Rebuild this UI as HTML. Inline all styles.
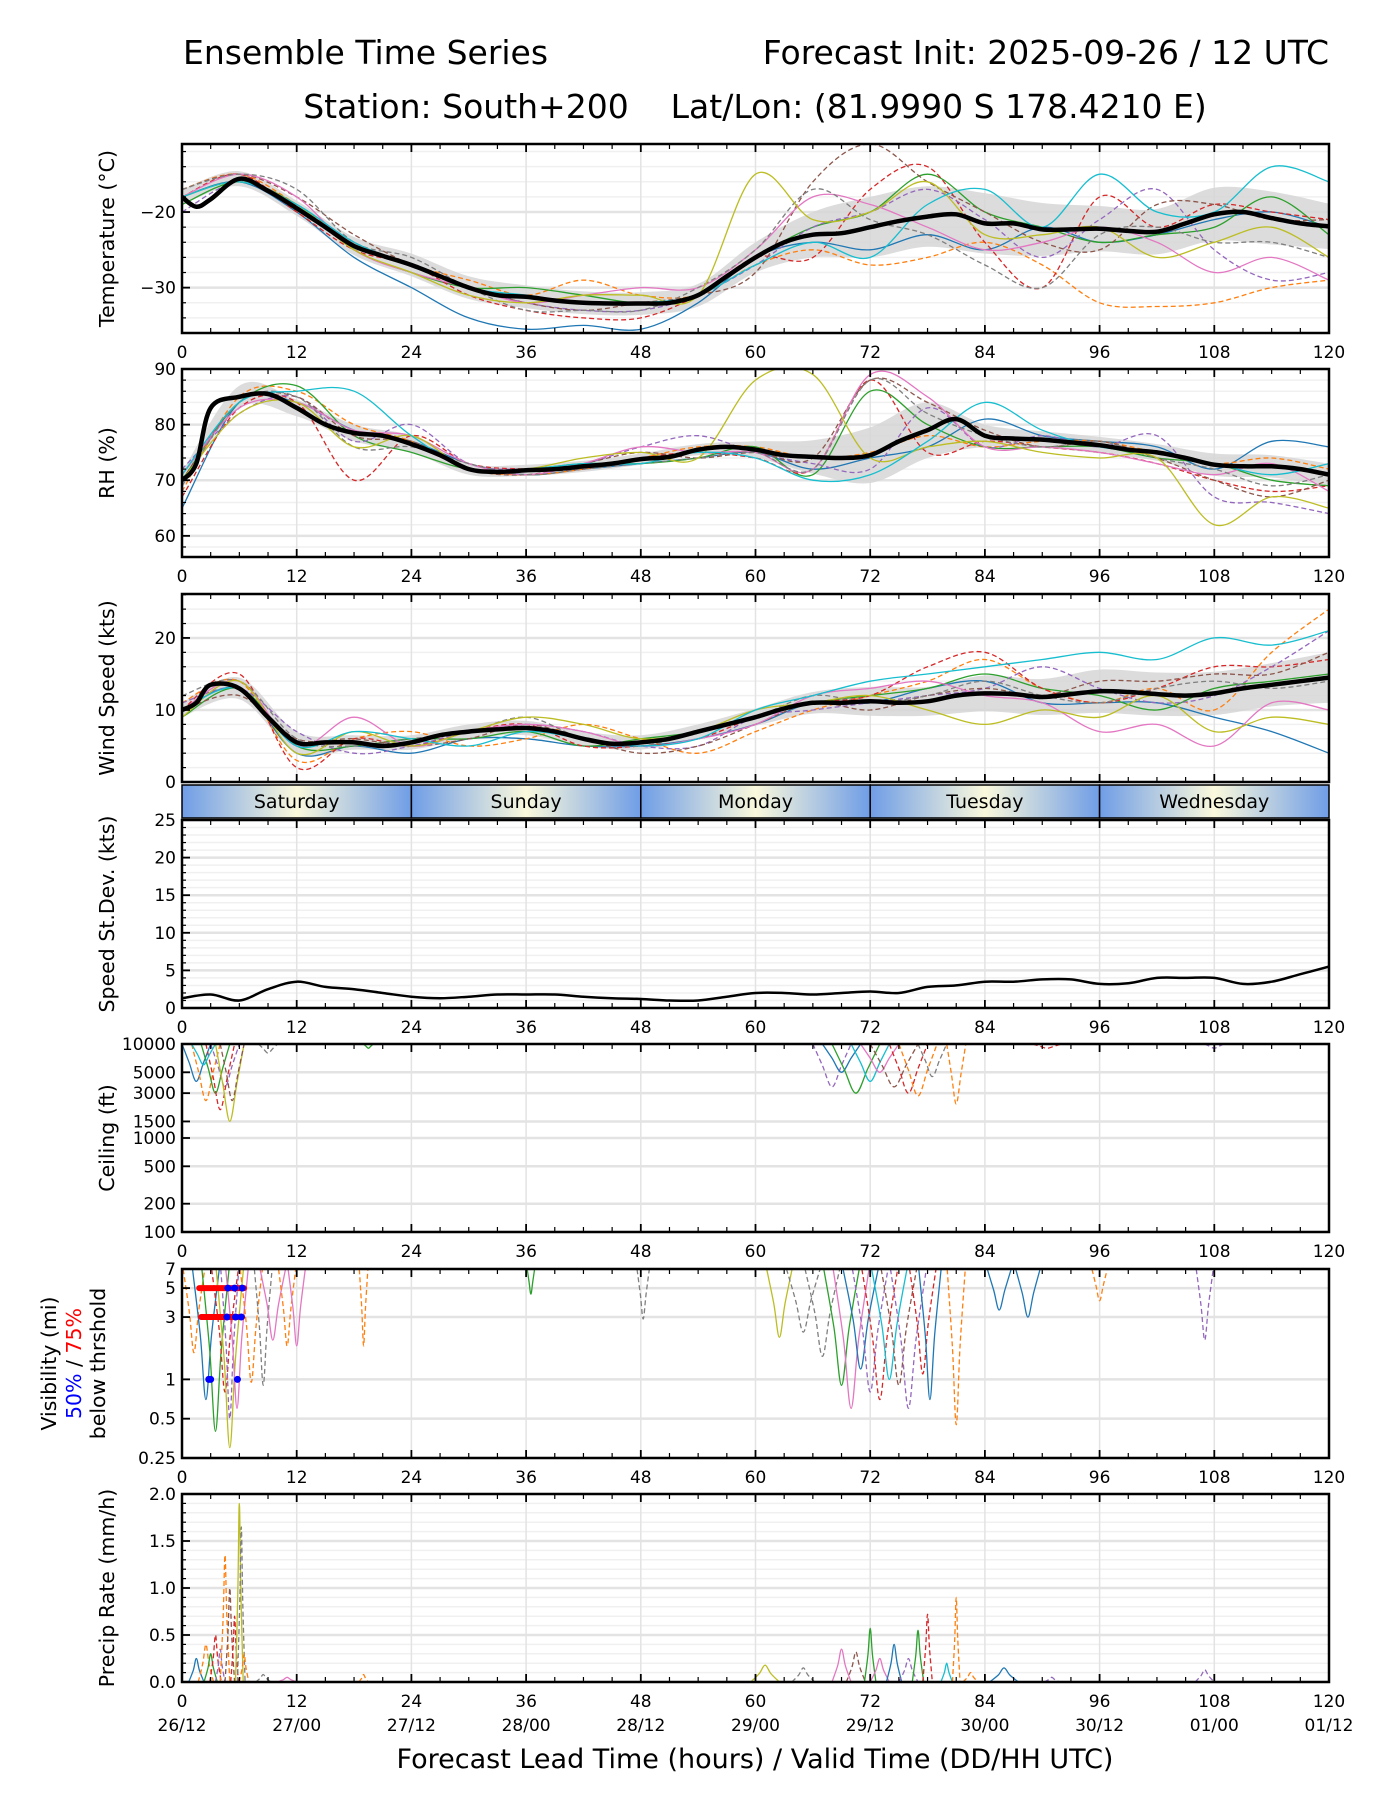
<!DOCTYPE html>
<html><head><meta charset="utf-8"><title>Ensemble Time Series</title>
<style>
html,body{margin:0;padding:0;background:#fff;}
svg{display:block;font-family:"DejaVu Sans","Liberation Sans",sans-serif;}
</style></head>
<body>
<svg id="chart" width="1400" height="1800" viewBox="0 0 1400 1800" xmlns="http://www.w3.org/2000/svg">
<text x="183" y="64" font-size="33">Ensemble Time Series</text>
<text x="1329" y="64" font-size="33" text-anchor="end">Forecast Init: 2025-09-26 / 12 UTC</text>
<text x="755" y="118" font-size="33" text-anchor="middle">Station: South+200 &#160;&#160; Lat/Lon: (81.9990 S 178.4210 E)</text>
<text x="755" y="1768" font-size="27" text-anchor="middle">Forecast Lead Time (hours) / Valid Time (DD/HH UTC)</text>
<g id="layer"></g>
</svg>
<script>
// ---------- data ----------
const memberColors = ["#1f77b4","#ff7f0e","#2ca02c","#d62728","#9467bd","#8c564b","#e377c2","#7f7f7f","#bcbd22","#17becf"];
const memberDashed = [false,true,false,true,true,true,false,true,false,false];
const meanHours = [0,1.5,3,6,9,12,15,18,21,24,27,30,33,36,39,42,45,48,51,54,57,60,63,66,69,72,75,78,81,84,87,90,93,96,99,102,105,108,111,114,117,120];
const tempMean = [-18,-19.3,-18.3,-15.6,-17.2,-19.5,-22,-24.5,-25.8,-27,-28.5,-30,-31,-31.2,-31.7,-32,-32.1,-32.1,-32,-31,-28.5,-26,-24,-23,-22.8,-22,-21.2,-20.6,-20.3,-21.5,-21.5,-22.3,-22.3,-22.2,-22.5,-22.6,-21.5,-20.3,-20,-20.8,-21.5,-21.9];
const rhMean = [70,73,83,85,85.5,83,80,78.5,78,76.5,74.5,72,71.5,71.8,72,72.5,73,73.8,74.2,75.5,76,75.5,74.5,74.2,74,74.5,77,79,81,78,77.5,77.3,76.8,76.3,75.5,75,74,72.8,72.5,72.5,72,71];
const windMean = [10,11,13.5,13,9,5.5,5.5,5.5,5,5.5,6.5,7,7.3,7.5,7,6,5.3,5.5,6,7,8,9,10.2,11,11,11.2,11,11.2,12,12.3,12.2,11.8,12.2,12.6,12.5,12.2,12,12.3,13,13.5,14,14.5];
const sdHours = [0,3,6,9,12,15,18,21,24,27,30,33,36,39,42,45,48,51,54,57,60,63,66,69,72,75,78,81,84,87,90,93,96,99,102,105,108,111,114,117,120];
const speedStdDev = [1.3,1.8,1,2.5,3.5,2.8,2.5,2,1.5,1.3,1.5,1.8,1.8,1.8,1.5,1.3,1.2,1,1,1.5,2,2,1.8,2,2.2,2,2.8,3,3.5,3.5,3.8,3.8,3.2,3.3,4,4,4,3.2,3.5,4.5,5.5];
const memberHours = [0,6,12,18,24,30,36,42,48,54,60,66,72,78,84,90,96,102,108,114,120];
const tempSpread = [1,1,1,1.2,1.5,1.5,1.5,1.5,1.5,1.5,2,3,4,4,4,3.5,3,3,3.5,3.5,3];
const rhSpread = [1.5,2,1.5,1.5,1.5,1,1,1,1,1,1.5,3,5,5,2,1.5,1.5,1.5,2,2,2];
const windSpread = [1,1.5,1.5,1,1,1,1,1,1,1,1.2,1.5,2,2,2.5,2.5,3,3,3,3,3.5];
const tempMembers = [
 [-18,-16,-20,-26,-30,-34,-35.5,-35,-35.5,-32,-26,-24,-25,-23,-25,-22,-24,-23,-21,-20,-22],
 [-17,-15,-19,-24,-27,-29,-31,-29,-31,-31,-27,-25,-27,-26,-24,-27,-32,-32.5,-32,-30,-29],
 [-19,-16,-19,-25,-28,-30,-30,-31,-32,-31,-26,-22,-20,-15,-20,-22,-24,-23,-22,-18,-23],
 [-18,-15,-20,-25,-27,-31,-33,-34,-34,-31,-26,-26,-17,-14,-24,-30,-18,-22,-19,-20,-21],
 [-20,-16,-19,-24,-27,-30,-32,-33,-33,-31,-27,-22,-20,-17,-21,-26,-21,-17,-25,-29,-28],
 [-17,-15,-18,-23,-27,-30,-32,-33,-32,-31,-28,-16,-11,-16,-20,-24,-25,-19,-19,-21,-21],
 [-18,-15,-18,-25,-28,-30,-32,-31,-30,-30,-25,-18,-19,-22,-25,-24,-22,-24,-28,-26,-29],
 [-17,-15,-17,-24,-26,-30,-33,-33,-33,-30,-25,-17,-21,-23,-27,-30,-23,-22,-24,-24,-26],
 [-18,-16,-19,-25,-28,-31,-32,-31,-31,-31,-15,-21,-20,-16,-23,-23,-22,-26,-24,-22,-26],
 [-18,-16,-19,-24,-27,-30,-31,-32,-32,-31,-27,-24,-26,-19,-17,-22,-15,-20,-20,-14,-16]];
const rhMembers = [
 [65,84,84,79,77,73,71,72,73,74,75,72,74,76,81,78,77,76,72,77,76],
 [68,85,86,80,77,72,71,72,74,76,76,74,75,78,76,77,77,75,73,74,72],
 [70,84,87,78,75,72,72,73,73,74,76,71,86,80,76,76,76,74,73,70,69],
 [67,83,84,70,78,73,72,72,74,75,74,72,88,75,77,76,75,73,70,68,69],
 [72,82,85,77,80,73,72,73,76,78,75,73,72,83,76,78,76,78,67,66,64],
 [70,84,85,78,77,72,71,73,75,74,75,74,88,84,79,76,77,74,70,67,70],
 [71,83,84,79,78,73,71,73,76,75,75,72,89,85,76,76,75,73,71,73,68],
 [69,84,85,76,76,73,71,72,73,74,75,72,88,82,78,76,77,74,72,69,71],
 [70,82,84,76,78,72,72,74,75,74,88,89,74,76,77,75,74,74,62,67,65],
 [71,84,86,86,78,72,72,73,73,75,74,70,71,77,84,79,76,75,73,71,73]];
const windMembers = [
 [10,13,4,5,4,6,6,5,5,6,8,11,11,13,14,11,11,11,9,7,4],
 [11,14,3,6,7,5,6,8,6,4,7,10,12,14,17,13,11,13,10,18,24],
 [9,13,5,5,6,6,7,5,6,7,9,11,12,13,15,13,12,10,13,14,15],
 [10,15,2,6,5,7,8,5,5,6,9,11,12,16,18,13,11,13,16,16,17],
 [11,13,7,4,5,7,8,7,5,5,9,10,11,12,13,16,13,11,12,16,21],
 [10,12,6,6,5,6,8,6,4,5,8,11,10,12,13,12,14,14,15,15,18],
 [10,14,5,9,5,7,8,7,5,6,8,12,13,14,12,11,7,8,5,11,10],
 [12,14,6,5,6,7,9,6,5,7,9,12,11,12,14,12,11,13,14,13,14],
 [9,14,4,7,5,7,9,8,6,7,10,11,12,10,8,10,9,12,7,9,8],
 [10,13,5,7,6,5,7,6,5,6,10,12,14,15,16,17,18,17,20,19,21]];
// dips: [startHour, endHour, minimum]
const ceilDips = [[0,3,4000],[1,4,2500],[2,5,3000],[2.5,5.5,2000],[3,6,3500],[3.5,6.5,1500],[4,6.5,2500],[1,3.5,6000],[8,10,8000],[19,20,9000],[66,70,3500],[67,71,5000],[68,73,3000],[70,74,4000],[71,75,5000],[72,77,3500],[74,78,3000],[75,79,2800],[77,80,4500],[80,82,2300],[107,109,9000],[89,92,9000]];
const visDips = [[0,2.5,1.6],[1,4,0.7],[2,5,0.4],[3,6,0.8],[3.5,6.5,0.3],[4,6,0.5],[4.5,7,0.6],[6,8.5,0.95],[7.5,9.5,0.9],[8,11,2],[10,12,1.8],[11,13,1.8],[18.5,19.5,1.8],[36,37,4.5],[47.5,49,2.9],[61,64,2.1],[63,67,2.3],[65,69,1.5],[67,71,0.9],[68,72,0.6],[69,73,1.2],[70,74,0.8],[71,75,0.7],[72,76,1.0],[73,77,0.9],[74,78,0.6],[76,79,1.1],[77,79.5,0.7],[80,82,0.45],[84,87,3.4],[87,90,3],[95,97,4],[106,108,2]];
const visDipColors = [1,0,2,3,8,4,6,1,7,6,1,6,1,2,7,8,7,7,2,6,0,4,3,9,5,4,3,0,1,0,0,1,4];
const ceilDipColors = [0,1,2,3,4,8,5,9,7,2,4,0,2,9,6,5,3,1,7,1,4,3];
// precip spikes: [hour, halfWidth, peak]
const precipSpikes = [[1.5,0.8,0.25],[2.5,0.8,0.4],[3,0.7,0.3],[3.5,0.6,0.5],[4,0.5,0.35],[4.5,0.5,1.35],[5,0.5,1.0],[5.5,0.4,0.7],[6,0.4,1.9],[6.2,0.4,1.65],[6.5,0.5,0.3],[8.5,0.8,0.08],[11,1,0.05],[19,0.5,0.08],[61,1.5,0.18],[65,1.2,0.15],[69,1,0.35],[70.5,1,0.32],[72,0.6,0.57],[73,1,0.25],[74.5,0.8,0.4],[76,1,0.25],[77,0.6,0.55],[78,0.5,0.72],[80,0.6,0.2],[81,0.4,0.9],[82.5,0.8,0.1],[86,1.5,0.15],[91,0.8,0.05],[107,1,0.13]];
const precipColors = [0,1,2,3,4,1,5,3,8,7,1,7,6,1,8,7,6,5,2,6,0,4,2,3,9,1,1,0,4,4];
const dayNames = ["Saturday","Sunday","Monday","Tuesday","Wednesday"];
const xTicks = [0,12,24,36,48,60,72,84,96,108,120];
const validLabels = ["26/12","27/00","27/12","28/00","28/12","29/00","29/12","30/00","30/12","01/00","01/12"];
const tempTicks = [-20,-30];
const rhTicks = [60,70,80,90];
const windTicks = [0,10,20];
const sdTicks = [0,5,10,15,20,25];
const ceilTicks = [100,200,500,1000,1500,3000,5000,10000];
const visTicks = [0.25,0.5,1,3,5,7];
const precipTicks = [0,0.5,1,1.5,2];
const precipTickLabels = ["0.0","0.5","1.0","1.5","2.0"];
// threshold markers [value, startHour, endHour]
const visRed = [[5,1.8,6.5],[3,2,6.3]];
const visBlue = [[5,4.8],[5,5.5],[5,6.3],[3,4.7],[3,5.6],[3,6.2],[1,2.8],[1,3],[1,5.8]];

// ---------- drawing ----------
const NS="http://www.w3.org/2000/svg";
const layer=document.getElementById('layer');
const X0=182,X1=1329;
function xs(h){return X0+(X1-X0)*h/120;}
function mk(tag,attrs,parent){const e=document.createElementNS(NS,tag);for(const k in attrs)e.setAttribute(k,attrs[k]);(parent||layer).appendChild(e);return e;}
function smooth(pts){if(!pts.length)return "";let d="M"+pts[0][0].toFixed(1)+","+pts[0][1].toFixed(1);
 for(let i=0;i<pts.length-1;i++){const p0=pts[Math.max(0,i-1)],p1=pts[i],p2=pts[i+1],p3=pts[Math.min(pts.length-1,i+2)];
  const c1=[p1[0]+(p2[0]-p0[0])/6,p1[1]+(p2[1]-p0[1])/6],c2=[p2[0]-(p3[0]-p1[0])/6,p2[1]-(p3[1]-p1[1])/6];
  d+="C"+c1[0].toFixed(1)+","+c1[1].toFixed(1)+" "+c2[0].toFixed(1)+","+c2[1].toFixed(1)+" "+p2[0].toFixed(1)+","+p2[1].toFixed(1);}
 return d;}
function interp(hs,vs,h){for(let i=0;i<hs.length-1;i++){if(h>=hs[i]&&h<=hs[i+1]){const t=(h-hs[i])/(hs[i+1]-hs[i]);return vs[i]+t*(vs[i+1]-vs[i]);}}return vs[vs.length-1];}

function panel(id,top,bot,ys,yTicks,yLabels,minor,label,noXLabels){
 const g=mk('g',{});
 
 
 const cp=mk('clipPath',{id:'clip-'+id},g);mk('rect',{x:X0,y:top,width:X1-X0,height:bot-top},cp);
 (minor||[]).forEach(v=>{const y=ys(v);mk('line',{x1:X0,x2:X1,y1:y,y2:y,stroke:'#f0f0f0','stroke-width':1.5},g);});
 xTicks.forEach(h=>{const x=xs(h);mk('line',{x1:x,x2:x,y1:top,y2:bot,stroke:'#e3e3e3','stroke-width':1.5},g);});
 yTicks.forEach(v=>{const y=ys(v);mk('line',{x1:X0,x2:X1,y1:y,y2:y,stroke:'#e3e3e3','stroke-width':2.5},g);});
 const plot=mk('g',{'clip-path':'url(#clip-'+id+')'},g);
 
 
 const fr=mk('rect',{x:X0,y:top,width:X1-X0,height:bot-top,fill:'none',stroke:'#000','stroke-width':2.5},g);
 
 
 for(let h=0;h<=120;h+=3){const x=xs(h);const len=h%12===0?8:5;mk('line',{x1:x,x2:x,y1:bot,y2:bot-len,stroke:'#000','stroke-width':h%12===0?1.8:1.2},g);mk('line',{x1:x,x2:x,y1:top,y2:top+len,stroke:'#000','stroke-width':h%12===0?1.8:1.2},g);}
 if(!noXLabels) xTicks.forEach(h=>{const t=mk('text',{x:xs(h),y:bot+25,'font-size':17,'text-anchor':'middle'},g);t.textContent=h;
  
  });
 (minor||[]).forEach(v=>{const y=ys(v);mk('line',{x1:X0,x2:X0+4,y1:y,y2:y,stroke:'#000','stroke-width':1.2},g);});
 yTicks.forEach((v,i)=>{const y=ys(v);mk('line',{x1:X0,x2:X0+8,y1:y,y2:y,stroke:'#000','stroke-width':1.8},g);
  const t=mk('text',{x:X0-6,y:y+6,'font-size':17,'text-anchor':'end'},g);t.textContent=yLabels[i];
  
  });
 if(label){const t=mk('text',{x:0,y:0,'font-size':20.5,'text-anchor':'middle',transform:'translate(114,'+((top+bot)/2)+') rotate(-90)'},g);t.textContent=label;
  
  }
 return plot;}

function ensemble(plot,ys,members,mean,spread,name){
 const up=memberHours.map((h,i)=>[xs(h),ys(interp(meanHours,mean,h)+spread[i])]);
 const lo=memberHours.map((h,i)=>[xs(h),ys(interp(meanHours,mean,h)-spread[i])]).reverse();
 const band=mk('path',{d:smooth(up)+"L"+smooth(lo).slice(1)+"Z",fill:'#d6d6d6','fill-opacity':0.85},plot);
 
 
 members.forEach((m,k)=>{const p=mk('path',{d:smooth(memberHours.map((h,i)=>[xs(h),ys(m[i])])),fill:'none',stroke:memberColors[k],'stroke-width':1.3,'stroke-dasharray':memberDashed[k]?'5,3':'none'},plot);
  
  });
 const ml=mk('path',{d:smooth(meanHours.map((h,i)=>[xs(h),ys(mean[i])])),fill:'none',stroke:'#000','stroke-width':4.5},plot);
 
 }

(function(){const top=144,bot=333,lo=-36,hi=-11;const ys=v=>bot-(v-lo)/(hi-lo)*(bot-top);
 const minor=[];for(let v=-34;v<=-12;v+=2)if(v!==-20&&v!==-30)minor.push(v);
 const p=panel('temperature',top,bot,ys,tempTicks,["\u221220","\u221230"],minor,"Temperature (\u00b0C)");
 ensemble(p,ys,tempMembers,tempMean,tempSpread,'temperature');})();
(function(){const top=369,bot=557,lo=56.2,hi=90;const ys=v=>bot-(v-lo)/(hi-lo)*(bot-top);
 const minor=[];for(let v=58;v<=88;v+=2)if(v%10)minor.push(v);
 const p=panel('rh',top,bot,ys,rhTicks,rhTicks.map(String),minor,"RH (%)");
 ensemble(p,ys,rhMembers,rhMean,rhSpread,'rh');})();
(function(){const top=594,bot=782,lo=0,hi=26.1;const ys=v=>bot-(v-lo)/(hi-lo)*(bot-top);
 const minor=[];for(let v=2;v<=26;v+=2)if(v%10)minor.push(v);
 const p=panel('wind',top,bot,ys,windTicks,windTicks.map(String),minor,"Wind Speed (kts)",true);
 ensemble(p,ys,windMembers,windMean,windSpread,'wind');})();
(function(){const top=785,bot=818;const defs=mk('defs',{});
 const gr=mk('linearGradient',{id:'dayg',x1:0,x2:1,y1:0,y2:0},defs);
 mk('stop',{offset:'0','stop-color':'#6f9de6'},gr);mk('stop',{offset:'0.5','stop-color':'#fbf9dc'},gr);mk('stop',{offset:'1','stop-color':'#6f9de6'},gr);
 dayNames.forEach((d,i)=>{const x=xs(i*24),w=xs(24)-xs(0);
  const r=mk('rect',{x:x,y:top,width:w,height:bot-top,fill:'url(#dayg)',stroke:'#000','stroke-width':1.5});
  
  
  const t=mk('text',{x:x+w/2,y:top+23,'font-size':19,'text-anchor':'middle'});t.textContent=d;
  
  });})();
(function(){const top=820,bot=1008,lo=0,hi=25;const ys=v=>bot-(v-lo)/(hi-lo)*(bot-top);
 const minor=[];for(let v=1;v<25;v++)if(v%5)minor.push(v);
 const p=panel('speed-stdev',top,bot,ys,sdTicks,sdTicks.map(String),minor,"Speed St.Dev. (kts)");
 const l=mk('path',{d:smooth(sdHours.map((h,i)=>[xs(h),ys(speedStdDev[i])])),fill:'none',stroke:'#000','stroke-width':2.5},p);
 
 })();
(function(){const top=1044,bot=1232;const ys=v=>bot-(Math.log10(v)-2)/2*(bot-top);
 const p=panel('ceiling',top,bot,ys,ceilTicks,ceilTicks.map(String),[],"Ceiling (ft)");
 ceilDips.forEach((d,k)=>{const c=ceilDipColors[k];const m=(d[0]+d[1])/2;
  const path=mk('path',{d:smooth([[xs(d[0]),ys(10000)],[xs(d[0]+(m-d[0])*0.5),ys(Math.sqrt(10000*d[2]))],[xs(m),ys(d[2])],[xs(m+(d[1]-m)*0.5),ys(Math.sqrt(10000*d[2]))],[xs(d[1]),ys(10000)]]),fill:'none',stroke:memberColors[c],'stroke-width':1.3,'stroke-dasharray':memberDashed[c]?'5,3':'none'},p);
  
  });})();
(function(){const top=1269,bot=1458;const ys=v=>top+(Math.log10(7)-Math.log10(v))/Math.log10(28)*(bot-top);
 const p=panel('visibility',top,bot,ys,visTicks,visTicks.map(String),[],null);
 const g=mk('text',{x:0,y:0,'font-size':20.5,'text-anchor':'middle',transform:'translate(0,'+((top+bot)/2)+') rotate(-90)'});
 
 
 const t1=mk('tspan',{x:0,y:56},g);t1.textContent="Visibility (mi)";
 const t2=mk('tspan',{x:0,y:81},g);const a=mk('tspan',{fill:'#0000ff'},t2);a.textContent="50%";const b=mk('tspan',{},t2);b.textContent=" / ";const c=mk('tspan',{fill:'#ff0000'},t2);c.textContent="75%";
 const t3=mk('tspan',{x:0,y:105},g);t3.textContent="below thrshold";
 visDips.forEach((d,k)=>{const ci=visDipColors[k];const m=(d[0]+d[1])/2;
  const path=mk('path',{d:smooth([[xs(d[0]),ys(8)],[xs(d[0]+(m-d[0])*0.6),ys(Math.sqrt(7*d[2]))],[xs(m),ys(d[2])],[xs(m+(d[1]-m)*0.4),ys(Math.sqrt(7*d[2]))],[xs(d[1]),ys(8)]]),fill:'none',stroke:memberColors[ci],'stroke-width':1.3,'stroke-dasharray':memberDashed[ci]?'5,3':'none'},p);
  
  });
 visRed.forEach(r=>{const l=mk('line',{x1:xs(r[1]),x2:xs(r[2]),y1:ys(r[0]),y2:ys(r[0]),stroke:'#ff0000','stroke-width':6,'stroke-linecap':'round'},p);
  
  });
 visBlue.forEach(b=>{const c=mk('circle',{cx:xs(b[1]),cy:ys(b[0]),r:3.5,fill:'#0000ff'},p);
  
  });})();
(function(){const top=1494,bot=1682,lo=0,hi=2;const ys=v=>bot-(v-lo)/(hi-lo)*(bot-top);
 const minor=[];for(let v=0.1;v<2;v+=0.1){const r=Math.round(v*10);if(r%5)minor.push(r/10);}
 const p=panel('precip',top,bot,ys,precipTicks,precipTickLabels,minor,"Precip Rate (mm/h)");
 precipSpikes.forEach((s,k)=>{const ci=precipColors[k];
  const path=mk('path',{d:smooth([[xs(s[0]-s[1]),ys(0)],[xs(s[0]-s[1]*0.4),ys(s[2]*0.5)],[xs(s[0]),ys(s[2])],[xs(s[0]+s[1]*0.4),ys(s[2]*0.5)],[xs(s[0]+s[1]),ys(0)]]),fill:'none',stroke:memberColors[ci],'stroke-width':1.3,'stroke-dasharray':memberDashed[ci]?'5,3':'none'},p);
  
  });
 xTicks.forEach((h,i)=>{const t=mk('text',{x:xs(h),y:bot+49,'font-size':17,'text-anchor':'middle'});t.textContent=validLabels[i];
  
  });})();
</script>
</body></html>
